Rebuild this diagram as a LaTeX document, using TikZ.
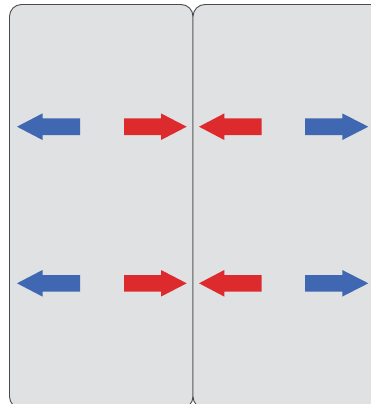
\documentclass[tikz,border=0pt]{standalone}
\usepackage{tikz}
\definecolor{panelgray}{RGB}{224,225,227}
\definecolor{edgegray}{RGB}{75,75,78}
\definecolor{arrowred}{RGB}{221,43,45}
\definecolor{arrowblue}{RGB}{64,103,178}
% color, tail x, head base x, tip x, y
\newcommand{\flatarrow}[5]{%
	\fill[#1] (#2,#5-8.3) -- (#3,#5-8.3) -- (#3,#5-13.3) -- (#4,#5)
		-- (#3,#5+13.3) -- (#3,#5+8.3) -- (#2,#5+8.3) -- cycle;}

\begin{document}
\begin{tikzpicture}[x = 1pt, y = -1pt]
			\useasboundingbox (0,0) rectangle (371,404);
			\clip (0,0) rectangle (371,404);

			\begin{scope}[fill = panelgray, draw = edgegray, line width = 0.9pt, rounded corners = 12pt]
				\filldraw (9.5,4.5) rectangle (193,408.5);
				\filldraw (193,4.5) rectangle (392,408.5);
			\end{scope}

			\foreach \y in {126.7, 283.3} {
				\flatarrow{arrowblue}{80}{42.5}{17}{\y}
				\flatarrow{arrowred}{124}{161}{186.7}{\y}
				\flatarrow{arrowred}{261.7}{224.3}{199}{\y}
				\flatarrow{arrowblue}{305}{342.3}{368.3}{\y}
			}
		\end{tikzpicture}
\end{document}
